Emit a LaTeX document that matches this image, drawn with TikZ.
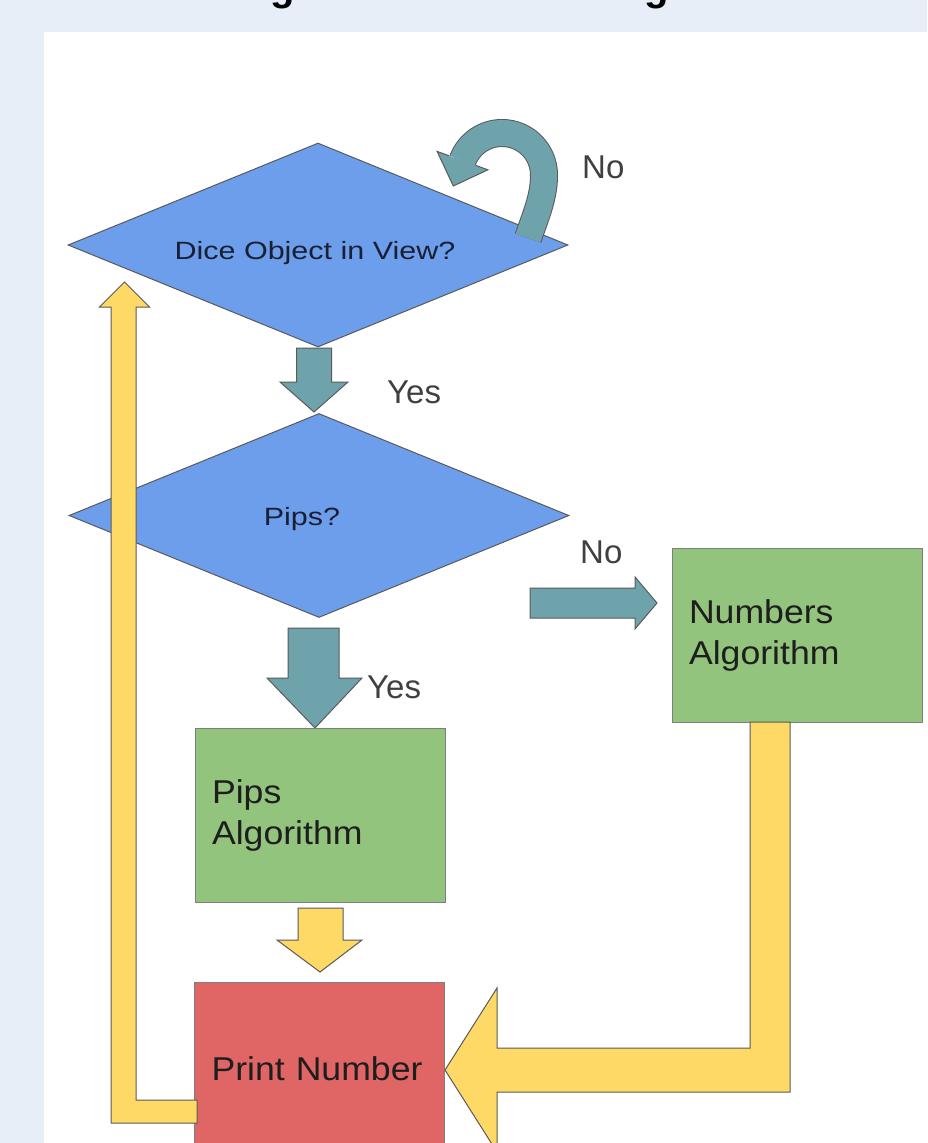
\documentclass[tikz,border=0pt]{standalone}
\usepackage{fontspec}
\setmainfont{Liberation Sans}
\newfontfamily\diafont[FakeStretch=1.22]{Liberation Sans}
\newfontfamily\boxfont[FakeStretch=1.08]{Liberation Sans}
\usetikzlibrary{shapes.geometric,calc}
\definecolor{bgblue}{HTML}{E7EEF8}
\definecolor{dblue}{HTML}{6D9EEB}
\definecolor{bgreen}{HTML}{93C47D}
\definecolor{bred}{HTML}{E06666}
\definecolor{byellow}{HTML}{FFD966}
\definecolor{bteal}{HTML}{6FA3AB}
\definecolor{edge}{HTML}{5A5A5A}
\definecolor{boxedge}{HTML}{7E7E7E}
\definecolor{labelgray}{HTML}{404040}
\definecolor{ink}{HTML}{1E1E1E}
\definecolor{dink}{HTML}{1A1F33}
\begin{document}
\begin{tikzpicture}[x=1pt,y=-1pt,
  decision/.style={diamond, draw=edge, fill=dblue, line width=1pt,
    minimum width=500pt, minimum height=204pt, inner sep=0pt},
  process/.style={rectangle, draw=boxedge, line width=1pt,
    minimum width=250pt, minimum height=174pt, text width=216pt,
    inner xsep=17pt, align=left, text=ink,
    font=\boxfont\fontsize{33}{41}\selectfont},
  dtext/.style={inner sep=0pt, anchor=base, text=dink,
    font=\diafont\fontsize{25}{30}\selectfont},
  lbl/.style={inner sep=0pt, anchor=base west, text=labelgray,
    font=\fontsize{33}{40}\selectfont},
  tealarrow/.style={fill=bteal, draw=edge, line width=1pt, line join=miter},
  yelarrow/.style={fill=byellow, draw=edge, line width=1pt, line join=miter}
]
\useasboundingbox (0,0) rectangle (927,1143);
\fill[bgblue] (0,0) rectangle (927,1143);
\fill[white] (44,32) rectangle (927,1143);

% cut-off title glyphs
\node[inner sep=0pt, anchor=base, font=\bfseries\fontsize{40}{40}\selectfont] (tg1) at (283,0) {g};
\node[inner sep=0pt, anchor=base, font=\bfseries\fontsize{40}{40}\selectfont] (tg2) at (657,0) {g};

% decisions
\node[decision] (d1) at (318,245) {};
\node[decision] (d2) at (319,515.5) {};

% processes
\node[process, fill=bgreen] (pips) at (320,815) {Pips\\Algorithm};
\node[process, fill=bgreen] (num) at (797,635) {Numbers\\Algorithm};
\node[process, fill=bred] (print) at (319.5,1069) {Print Number};

% teal arrows
\draw[tealarrow] (296.5,348) -- (331.5,348) -- (331.5,382) -- (348,382)
  -- (314,412) -- (280,382) -- (296.5,382) -- cycle;
\draw[tealarrow] (288,628) -- (339,628) -- (339,678) -- (362,678)
  -- (315,728) -- (267,678) -- (288,678) -- cycle;
\draw[tealarrow] (530,588) -- (635,588) -- (635,577) -- (657,603)
  -- (635,629) -- (635,618) -- (530,618) -- cycle;

% U-turn "No" arrow
\draw[draw=edge, line width=1pt, double=bteal, double distance=26pt]
  (528,238) .. controls (538,210) and (544,195) .. (544,175)
  arc[start angle=0, end angle=-160, radius=42];
\fill[bteal] (437.1,151.4) -- (487.9,169.8) -- (453.3,186) -- cycle;
\draw[edge, line width=1pt, line join=miter]
  (449.3,155.8) -- (437.1,151.4) -- (453.3,186) -- (487.9,169.8) -- (475.7,165.4);

% yellow arrows
\draw[yelarrow] (298,908) -- (343,908) -- (343,940) -- (362,940)
  -- (320,972) -- (277,940) -- (298,940) -- cycle;
\draw[yelarrow] (750,722) -- (790,722) -- (790,1092) -- (497,1092)
  -- (497,1152) -- (445,1070) -- (497,988) -- (497,1048) -- (750,1048) -- cycle;
\draw[yelarrow] (197,1100) -- (136,1100) -- (136,307) -- (149.5,307)
  -- (124.5,282) -- (99.5,307) -- (111,307) -- (111,1123) -- (197,1123) -- cycle;

% decision texts
\node[dtext] (t1) at (315,259) {Dice Object in View?};
\node[dtext] (t2) at (302,525) {Pips?};

% labels
\node[lbl] (no1) at (582,178) {No};
\node[lbl] (yes1) at (387,403) {Yes};
\node[lbl] (no2) at (580,563) {No};
\node[lbl] (yes2) at (367,698) {Yes};
\end{tikzpicture}
\end{document}
